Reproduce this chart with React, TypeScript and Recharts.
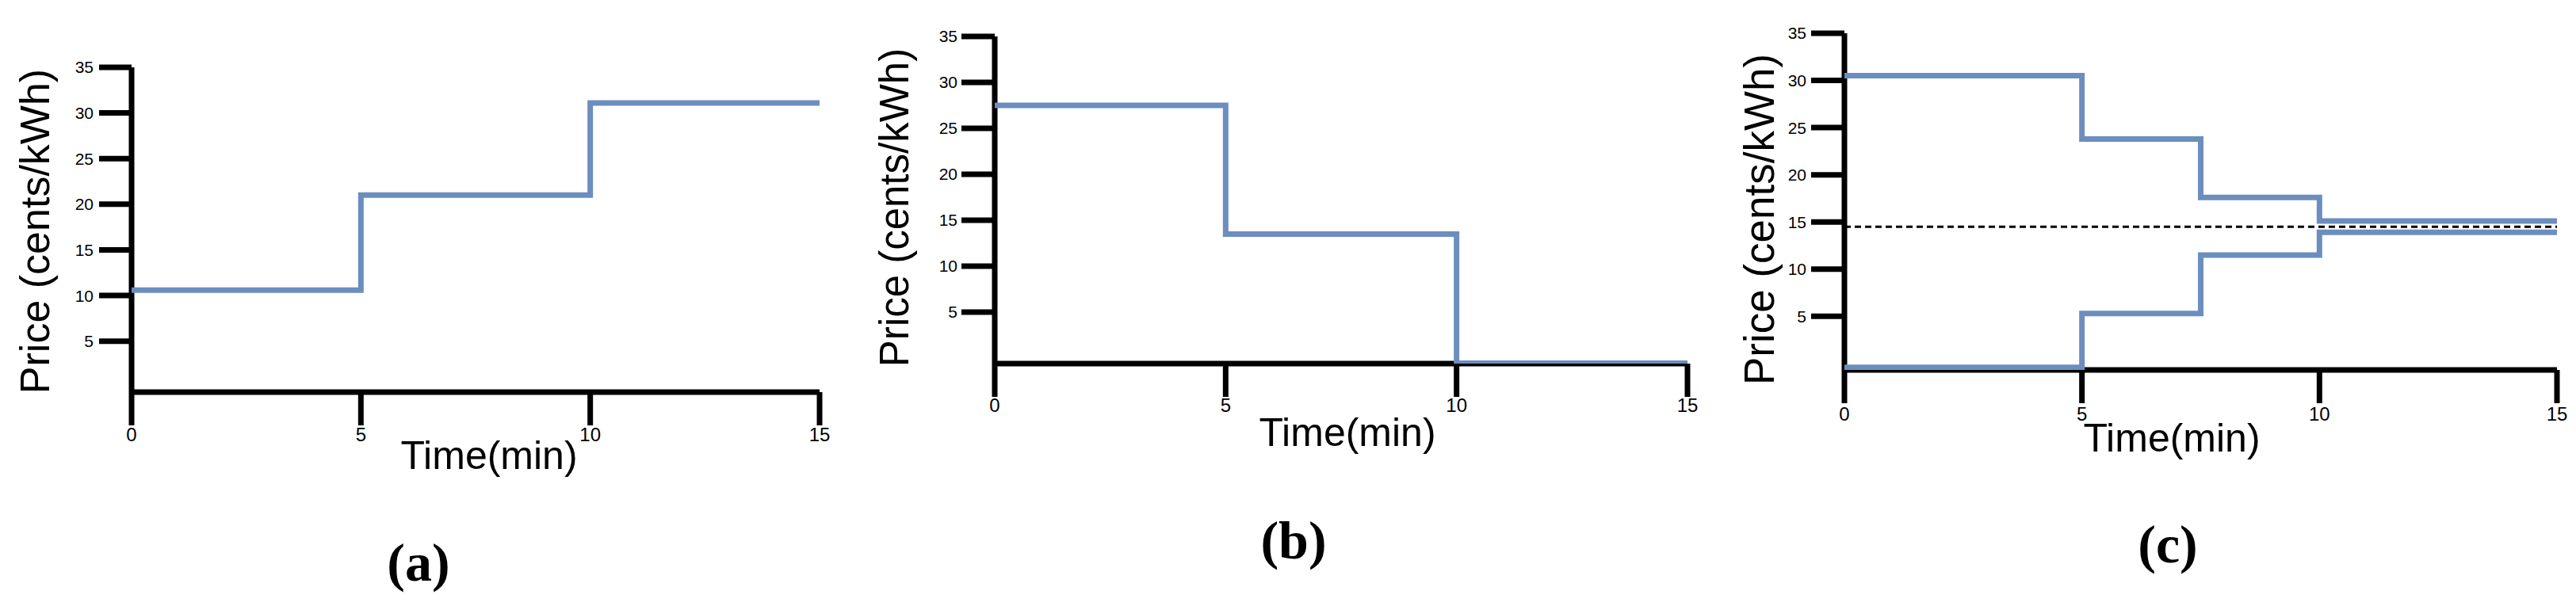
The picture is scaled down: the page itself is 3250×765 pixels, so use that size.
import { LineChart, Line, XAxis, YAxis, ReferenceLine, Label } from 'recharts'

// shared ticks
const timeTicks = [0, 5, 10, 15]
const priceTicks = [5, 10, 15, 20, 25, 30, 35]

// (a) rising price
const timesA = [0, 5, 10, 15]
const priceA = [10.6, 21.0, 31.1, 31.1]

// (b) falling price
const timesB = [0, 5, 10, 15]
const priceB = [27.5, 13.5, -0.55, -0.55]

// (c) two prices converging on the average
const timesC = [0, 5, 7.5, 10, 15]
const upperC = [30.5, 23.8, 17.6, 15.1, 15.1]
const lowerC = [-0.4, 5.3, 11.5, 13.9, 13.9]
const averageC = 14.5

const captions = ['(a)', '(b)', '(c)']

const BLUE = '#6c8ebf'
const H = 765
const AXIS_W = 7
const LINE_W = 7

interface Panel {
  left: number
  width: number
  plotLeft: number
  plotRight: number
  plotTop: number
  plotBottom: number
  yMin: number
  yTickSize: number
  yTickMargin: number
  xTickMargin: number
  yTitle: [number, number, number]
  xTitle: [number, number]
  caption: [number, number]
}

const panels: Panel[] = [
  { left: 0, width: 1080, plotLeft: 166, plotRight: 1034, plotTop: 85, plotBottom: 495, yMin: -0.58,
    yTickSize: 41, yTickMargin: 7, xTickMargin: 3, yTitle: [62, 292, 52], xTitle: [617, 592], caption: [528, 733] },
  { left: 1080, width: 1080, plotLeft: 1255, plotRight: 2129, plotTop: 46, plotBottom: 459, yMin: -0.6,
    yTickSize: 42, yTickMargin: 5, xTickMargin: 2, yTitle: [66, 262, 51], xTitle: [1700, 563], caption: [1632, 705] },
  { left: 2160, width: 1090, plotLeft: 2327, plotRight: 3226, plotTop: 42, plotBottom: 467, yMin: -0.68,
    yTickSize: 42, yTickMargin: 6, xTickMargin: 5, yTitle: [78, 277, 53], xTitle: [2740, 570], caption: [2735, 710] },
]

const tickStyle = { fontSize: 21, fill: '#000', fontFamily: 'Liberation Sans, Arial, sans-serif' }
const xTickStyle = { fontSize: 24, fill: '#000', fontFamily: 'Liberation Sans, Arial, sans-serif' }

function PricePanel({ p, index, data, children }: { p: Panel; index: number; data: any[]; children: any }) {
  const yAxisWidth = p.plotLeft - p.left
  const margin = { top: p.plotTop, right: p.left + p.width - p.plotRight, bottom: 0, left: 0 }
  return (
    <div style={{ position: 'absolute', left: p.left, top: 0, width: p.width, height: H }}>
      {/* axes and titles underneath */}
      <div style={{ position: 'absolute', left: 0, top: 0 }}>
        <LineChart width={p.width} height={H} data={data} margin={margin}>
          <XAxis
            dataKey="t"
            type="number"
            domain={[0, 15]}
            ticks={timeTicks}
            height={H - p.plotBottom}
            tickSize={42}
            tickMargin={p.xTickMargin}
            tick={xTickStyle}
            axisLine={{ stroke: '#000', strokeWidth: AXIS_W }}
            tickLine={{ stroke: '#000', strokeWidth: AXIS_W }}
          >
            <Label
              content={() => (
                <g fontFamily="Liberation Sans, Arial, sans-serif">
                  <text x={p.xTitle[0] - p.left} y={p.xTitle[1]} textAnchor="middle" fontSize={50} fill="#000">
                    Time(min)
                  </text>
                  <text
                    x={p.caption[0] - p.left}
                    y={p.caption[1]}
                    textAnchor="middle"
                    fontSize={68}
                    fontWeight="bold"
                    fontFamily="Liberation Serif, serif"
                    fill="#000"
                  >
                    {captions[index]}
                  </text>
                </g>
              )}
            />
          </XAxis>
          <YAxis
            type="number"
            domain={[p.yMin, 35]}
            ticks={priceTicks}
            width={yAxisWidth}
            tickSize={p.yTickSize}
            tickMargin={p.yTickMargin}
            tick={tickStyle}
            axisLine={{ stroke: '#000', strokeWidth: AXIS_W }}
            tickLine={{ stroke: '#000', strokeWidth: AXIS_W }}
            allowDataOverflow
          >
            <Label
              content={() => (
                <text
                  x={p.yTitle[0]}
                  y={p.yTitle[1]}
                  transform={`rotate(-90 ${p.yTitle[0]} ${p.yTitle[1]})`}
                  textAnchor="middle"
                  fontSize={p.yTitle[2]}
                  fontFamily="Liberation Sans, Arial, sans-serif"
                  fill="#000"
                >
                  Price (cents/kWh)
                </text>
              )}
            />
          </YAxis>
        </LineChart>
      </div>
      {/* series drawn on top, same scales */}
      <div style={{ position: 'absolute', left: 0, top: 0 }}>
        <LineChart width={p.width} height={H} data={data} margin={margin}>
          <XAxis dataKey="t" type="number" domain={[0, 15]} ticks={timeTicks} height={H - p.plotBottom}
            tick={false} axisLine={false} tickLine={false} />
          <YAxis type="number" domain={[p.yMin, 35]} ticks={priceTicks} width={yAxisWidth}
            tick={false} axisLine={false} tickLine={false} allowDataOverflow />
          {children}
        </LineChart>
      </div>
    </div>
  )
}

export default function App() {
  const dataA = timesA.map((t, i) => ({ t, price: priceA[i] }))
  const dataB = timesB.map((t, i) => ({ t, price: priceB[i] }))
  const dataC = timesC.map((t, i) => ({ t, upper: upperC[i], lower: lowerC[i] }))

  return (
    <div style={{ position: 'absolute', left: 0, top: 0, width: 3250, height: H, background: '#fff' }}>
      <PricePanel p={panels[0]} index={0} data={dataA}>
        <Line type="stepAfter" dataKey="price" stroke={BLUE} strokeWidth={LINE_W} dot={false} isAnimationActive={false} />
      </PricePanel>
      <PricePanel p={panels[1]} index={1} data={dataB}>
        <Line type="stepAfter" dataKey="price" stroke={BLUE} strokeWidth={LINE_W} dot={false} isAnimationActive={false} />
      </PricePanel>
      <PricePanel p={panels[2]} index={2} data={dataC}>
        <ReferenceLine y={averageC} stroke="#000" strokeWidth={3} strokeDasharray="8 5" />
        <Line type="stepAfter" dataKey="upper" stroke={BLUE} strokeWidth={LINE_W} dot={false} isAnimationActive={false} />
        <Line type="stepAfter" dataKey="lower" stroke={BLUE} strokeWidth={LINE_W} dot={false} isAnimationActive={false} />
      </PricePanel>
    </div>
  )
}
